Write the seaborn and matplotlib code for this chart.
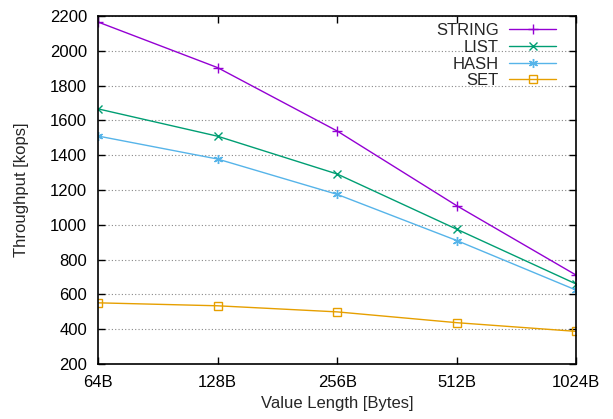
import numpy as np
import pandas as pd
import matplotlib
matplotlib.use("Agg")
import matplotlib.pyplot as plt
import seaborn as sns

value_lengths = ["64B", "128B", "256B", "512B", "1024B"]
string_kops = [2165, 1903, 1539, 1110, 711]
list_kops = [1666, 1509, 1292, 975, 660]
hash_kops = [1510, 1378, 1175, 910, 625]
set_kops = [552, 535, 500, 438, 388]

series = {"STRING": string_kops, "LIST": list_kops, "HASH": hash_kops, "SET": set_kops}
colors = {"STRING": "#9400D3", "LIST": "#009E73", "HASH": "#56B4E9", "SET": "#E69F00"}
markers = {"STRING": "+", "LIST": "x", "HASH": (6, 2, 0), "SET": "s"}
msizes = {"STRING": 7, "LIST": 6, "HASH": 6.5, "SET": 5.5}

rows = []
for name, vals in series.items():
    for i, v in enumerate(vals):
        rows.append({"pos": i, "kops": v, "type": name})
df = pd.DataFrame(rows)

sns.set_style("ticks")
plt.rcParams["font.family"] = ["Liberation Sans", "DejaVu Sans"]

fig = plt.figure(figsize=(6.13, 4.19), dpi=100)
ax = fig.add_axes([0.16, 0.131, 0.78, 0.831])

for name in series:
    sub = df[df["type"] == name]
    sns.lineplot(data=sub, x="pos", y="kops", ax=ax, color=colors[name],
                 marker=markers[name], markersize=msizes[name], linewidth=1,
                 markerfacecolor="none" if name == "SET" else colors[name],
                 markeredgecolor=colors[name], markeredgewidth=1, label=name)

ax.set_xlim(0, len(value_lengths) - 1)
ax.set_ylim(200, 2200)
ax.set_xticks(range(len(value_lengths)))
ax.set_xticklabels(value_lengths)
ax.set_yticks(np.arange(200, 2201, 200))
ax.yaxis.grid(True, linestyle=(0, (1, 2)), color="#888888", linewidth=0.8)
ax.tick_params(direction="in", top=True, right=True, labelsize=12, length=5, width=1, colors="black")
ax.tick_params(axis="x", pad=8)
ax.tick_params(axis="y", pad=8)
for s in ax.spines.values():
    s.set_linewidth(1.2)
    s.set_color("black")

ax.set_xlabel("Value Length [Bytes]", fontsize=12)
ax.set_ylabel("Throughput [kops]", fontsize=12, labelpad=15)

ax.legend(loc="upper right", bbox_to_anchor=(0.958, 0.979), frameon=False,
          markerfirst=False, fontsize=12, handlelength=2.8, handletextpad=0.65,
          labelspacing=0.1, borderpad=0, borderaxespad=0)

fig.savefig("out.png", dpi=100)
